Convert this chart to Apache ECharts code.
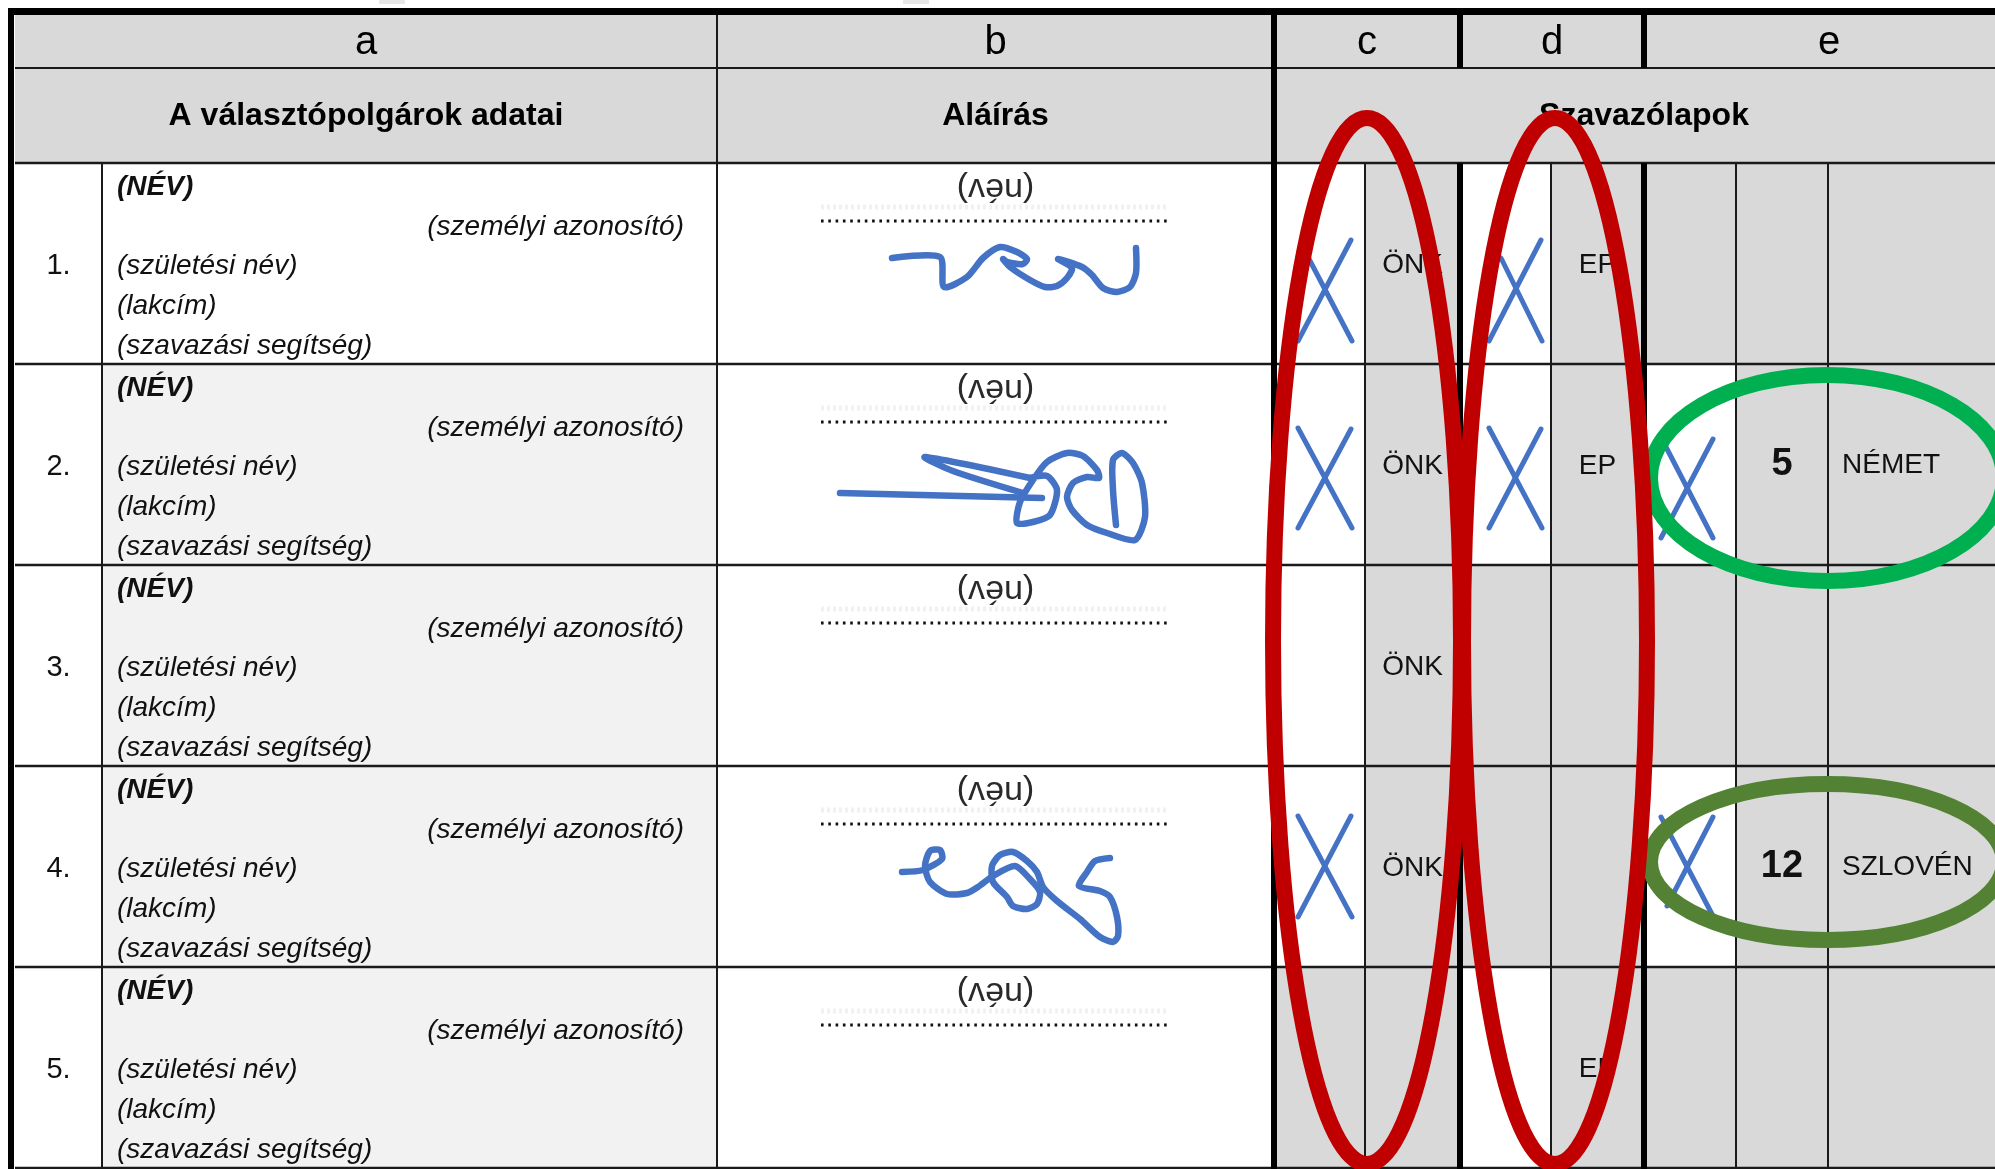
<!DOCTYPE html>
<html><head><meta charset="utf-8">
<script src="https://cdn.jsdelivr.net/npm/echarts@6/dist/echarts.min.js"></script>
<style>html,body{margin:0;padding:0;background:#fff;}#chart{width:1995px;height:1169px;}</style>
</head><body><div id="chart"></div>
<script>
// ================= DATA =================
const columnLetters = ['a', 'b', 'c', 'd', 'e'];
const sectionTitles = ['A választópolgárok adatai', 'Aláírás', 'Szavazólapok'];
const rowNumbers = ['1.', '2.', '3.', '4.', '5.'];
const voterFields = ['(NÉV)', '(személyi azonosító)', '(születési név)', '(lakcím)', '(szavazási segítség)'];
const signatureCaption = '(név)';
const onkBallot = ['ÖNK', 'ÖNK', 'ÖNK', 'ÖNK', ''];
const epBallot = ['EP', 'EP', '', '', 'EP'];
const nationalityNumber = ['', '5', '', '12', ''];
const nationalityName = ['', 'NÉMET', '', 'SZLOVÉN', ''];
const onkMarked = [true, true, false, true, false];
const epMarked = [true, true, false, false, false];
const nationalityMarked = [false, true, false, true, false];
const signed = [true, true, false, true, false];

// ================= HANDWRITING (shapes, relative to cell left / row top) =================
const xMarkStrokes = {
  onk: { 0: [[24, 178, 77, 77], [34, 94, 78, 178]], 1: [[24, 64, 78, 164], [77, 65, 24, 164]], 3: [[24, 50, 78, 151], [77, 50, 24, 151]] },
  ep:  { 0: [[81, 77, 29, 178], [41, 95, 82, 178]], 1: [[29, 64, 82, 164], [81, 65, 29, 164]] },
  nat: { 1: [[69, 75, 17, 174], [22, 83, 69, 174]], 3: [[69, 51, 23, 140], [17, 51, 69, 150]] }
};
// signature strokes: x on the page axis, y relative to row top
const signatureStrokes = {
  0: [[[892,95],[940,94],[944,124],[967,114],[983,95],[1000,84],[1017,89],[1027,96],[1023,101],[1007,99],[1003,96],[1010,104],[1030,117],[1045,124],[1057,123],[1067,115],[1072,105],[1058,96],[1082,104],[1092,112],[1103,125],[1117,129],[1130,124],[1136,110],[1136,85]]],
  1: [[[840,129],[1042,134]],
      [[1023,129],[953,107],[925,93],[1030,114]],
      [[1030,114],[1047,112],[1057,126],[1050,151],[1033,158],[1017,159],[1020,138],[1033,116],[1047,98],[1067,89],[1083,92],[1097,106],[1099,114],[1087,113],[1073,119],[1067,133],[1072,146],[1087,161],[1107,169],[1135,176],[1145,153],[1142,119],[1133,99],[1122,89],[1113,96],[1113,126],[1116,161]]],
  3: [[[902,106],[923,104],[942,93],[940,84],[930,85],[925,100],[930,116],[947,128],[967,127],[978,121],[993,110],[1015,100],[1030,113],[1040,126],[1037,138],[1027,143],[1013,140],[1007,131],[993,116],[992,100],[1000,89],[1013,86],[1027,95],[1037,106],[1043,121],[1057,135],[1080,153],[1100,171],[1113,176],[1118,170],[1117,151],[1110,131],[1100,125],[1079,120],[1087,106],[1095,95],[1110,92]]]
};

// ================= LAYOUT / STYLE =================
const L = {
  top: 15, head1: 68, head2: 163, rowH: 201,
  x: { num: 15, data: 102, b: 717, c: 1274, cIn: 1365, d: 1460, dIn: 1551, e: 1644, e1: 1736, e2: 1828, end: 2014 }
};
const C = { head: '#d9d9d9', shade: '#d9d9d9', light: '#f2f2f2', white: '#ffffff', text: '#111111',
  ink: '#4472c4', red: '#c00000', green1: '#00b050', green2: '#548235' };
const FF = '"Liberation Sans", Arial, sans-serif';
const rowTop = i => L.head2 + i * L.rowH;
const X = L.x;

// ================= BUILD ITEMS =================
const cells = [];
const addCell = (x0, y0, x1, y1, fill) => cells.push({ x0, y0, x1, y1, fill });
addCell(X.num, L.top, X.end, L.head2, C.head);
rowNumbers.forEach((_, i) => {
  const t = rowTop(i), b = t + L.rowH;
  addCell(X.num, t, X.data, b, C.white);
  addCell(X.data, t, X.b, b, i === 0 ? C.white : C.light);
  addCell(X.b, t, X.c, b, C.white);
  addCell(X.c, t, X.cIn, b, onkBallot[i] ? C.white : C.shade);
  addCell(X.cIn, t, X.d, b, C.shade);
  addCell(X.d, t, X.dIn, b, epBallot[i] ? C.white : C.shade);
  addCell(X.dIn, t, X.e, b, C.shade);
  addCell(X.e, t, X.e1, b, nationalityNumber[i] ? C.white : C.shade);
  addCell(X.e1, t, X.e2, b, C.shade);
  addCell(X.e2, t, X.end, b, C.shade);
});
addCell(379, 0, 405, 4, '#e6e6e6');
addCell(903, 0, 929, 4, '#e6e6e6');

const bottom = rowTop(rowNumbers.length);
const rules = [];
const addRule = (x1, y1, x2, y2, w, color) => rules.push({ x1, y1, x2, y2, w, color: color || '#1a1a1a' });
addRule(X.num, L.head1, X.end, L.head1, 2);
addRule(X.num, L.head2, X.end, L.head2, 2.5);
rowNumbers.forEach((_, i) => addRule(X.num, rowTop(i + 1), X.end, rowTop(i + 1), 2.5));
addRule(X.data, L.head2, X.data, bottom, 2);
addRule(X.b, L.top, X.b, bottom, 2);
[X.cIn, X.dIn, X.e1, X.e2].forEach(x => addRule(x, L.head2, x, bottom, 2));
addRule(8, 11.5, X.end, 11.5, 7, '#000');
addRule(11, 8, 11, bottom + 2, 6, '#000');
addRule(X.c, L.top, X.c, bottom + 2, 6, '#000');
[X.d, X.e].forEach(x => { addRule(x, L.top, x, L.head1, 6, '#000'); addRule(x, L.head2, x, bottom + 2, 6, '#000'); });

const texts = [];
const addText = (x, y, text, o) => texts.push(Object.assign({ x, y, text, size: 28, weight: 'normal', style: 'normal', align: 'center', rot: 0, fill: C.text }, o || {}));
const spans = [[X.num, X.b], [X.b, X.c], [X.c, X.d], [X.d, X.e], [X.e, X.end]];
columnLetters.forEach((t, i) => addText((spans[i][0] + spans[i][1]) / 2, 43, t, { size: 40, fill: '#000' }));
addText((X.num + X.b) / 2, 116, sectionTitles[0], { size: 32, weight: 'bold', fill: '#000' });
addText((X.b + X.c) / 2, 116, sectionTitles[1], { size: 32, weight: 'bold', fill: '#000' });
addText((X.c + X.end) / 2, 116, sectionTitles[2], { size: 32, weight: 'bold', fill: '#000' });
const fieldOffsets = [24, 64, 103, 143, 183];
rowNumbers.forEach((n, i) => {
  const t = rowTop(i), mid = t + L.rowH / 2;
  addText((X.num + X.data) / 2, mid + 2, n, { size: 29 });
  voterFields.forEach((f, k) => {
    if (k === 1) addText(684, t + fieldOffsets[k], f, { style: 'italic', align: 'right' });
    else addText(117, t + fieldOffsets[k], f, { style: 'italic', align: 'left', weight: k === 0 ? 'bold' : 'normal' });
  });
  addText((X.b + X.c) / 2, t + 25, signatureCaption, { size: 34, rot: Math.PI, fill: '#2a2a2a' });
  if (onkBallot[i]) addText((X.cIn + X.d) / 2, mid + 2, onkBallot[i]);
  if (epBallot[i]) addText((X.dIn + X.e) / 2, mid + 2, epBallot[i]);
  if (nationalityNumber[i]) addText((X.e1 + X.e2) / 2, mid, nationalityNumber[i], { size: 38, weight: 'bold' });
  if (nationalityName[i]) addText(1842, mid + 1, nationalityName[i], { align: 'left' });
});

const pen = [];
rowNumbers.forEach((_, i) => {
  const t = rowTop(i);
  pen.push({ kind: 'line', pts: [[821, t + 44], [1168, t + 44]], w: 5, color: '#f1f1f1', dash: [3, 3] });
  pen.push({ kind: 'line', pts: [[821, t + 58], [1168, t + 58]], w: 3.2, color: '#111', dash: [2.6, 4.7] });
  if (signed[i] && signatureStrokes[i]) signatureStrokes[i].forEach(s => pen.push({ kind: 'poly', pts: s.map(p => [p[0], t + p[1]]), w: 6.5, color: C.ink }));
  const addX = (marks, set, left) => {
    if (marks[i] && set[i]) set[i].forEach(l => pen.push({ kind: 'line', pts: [[left + l[0], t + l[1]], [left + l[2], t + l[3]]], w: 5, color: C.ink }));
  };
  addX(onkMarked, xMarkStrokes.onk, X.c);
  addX(epMarked, xMarkStrokes.ep, X.d);
  addX(nationalityMarked, xMarkStrokes.nat, X.e);
});

// highlight ellipses (annotation rings)
const rings = [
  { cx: 1827, cy: 478, rx: 177, ry: 103, color: C.green1 },
  { cx: 1827, cy: 862, rx: 177, ry: 78, color: C.green2 },
  { cx: 1367, cy: 641, rx: 94, ry: 523, color: C.red },
  { cx: 1555, cy: 641, rx: 92, ry: 523, color: C.red }
];

// ================= SERIES =================
function series(items, anchor, build, z) {
  return { type: 'custom', coordinateSystem: 'cartesian2d', silent: true, animation: false, z,
    data: items.map(anchor), renderItem: (p, api) => build(items[p.dataIndex], api) };
}
const cellSeries = series(cells, c => [c.x0, c.y0], (c, api) => {
  const a = api.coord([c.x0, c.y0]), b = api.coord([c.x1, c.y1]);
  return { type: 'rect', shape: { x: a[0], y: a[1], width: b[0] - a[0], height: b[1] - a[1] }, style: { fill: c.fill, stroke: 'none' } };
}, 1);
const ruleSeries = series(rules, r => [r.x1, r.y1], (r, api) => {
  const a = api.coord([r.x1, r.y1]), b = api.coord([r.x2, r.y2]);
  return { type: 'line', shape: { x1: a[0], y1: a[1], x2: b[0], y2: b[1] }, style: { stroke: r.color, lineWidth: r.w, fill: 'none' } };
}, 2);
const textSeries = series(texts, t => [t.x, t.y], (t, api) => {
  const a = api.coord([t.x, t.y]);
  return { type: 'text', x: a[0], y: a[1], rotation: t.rot, style: { text: t.text, fill: t.fill, fontSize: t.size, fontFamily: FF,
    fontWeight: t.weight, fontStyle: t.style, align: t.align, verticalAlign: 'middle' } };
}, 3);
const penSeries = series(pen, p => p.pts[0], (p, api) => {
  const pts = p.pts.map(q => api.coord(q));
  if (p.kind === 'line') return { type: 'line', shape: { x1: pts[0][0], y1: pts[0][1], x2: pts[1][0], y2: pts[1][1] },
    style: { stroke: p.color, lineWidth: p.w, lineDash: p.dash || null, fill: 'none', lineCap: p.dash ? 'butt' : 'round' } };
  return { type: 'polyline', shape: { points: pts, smooth: 0.25 }, style: { stroke: p.color, lineWidth: p.w, fill: 'none', lineJoin: 'round', lineCap: 'round' } };
}, 4);
const ringSeries = series(rings, r => [r.cx, r.cy], (r, api) => {
  const c = api.coord([r.cx, r.cy]), s = api.size([r.rx, r.ry]);
  return { type: 'ellipse', shape: { cx: c[0], cy: c[1], rx: Math.abs(s[0]), ry: Math.abs(s[1]) }, style: { stroke: r.color, lineWidth: 16, fill: 'none' } };
}, 5);

const chart = echarts.init(document.getElementById('chart'), null, { renderer: 'canvas' });
chart.setOption({
  backgroundColor: '#ffffff',
  animation: false,
  grid: { left: 0, right: 0, top: 0, bottom: 0 },
  xAxis: { type: 'value', min: 0, max: 1995, show: false },
  yAxis: { type: 'value', min: 0, max: 1169, inverse: true, show: false },
  series: [cellSeries, ruleSeries, textSeries, penSeries, ringSeries]
});
</script></body></html>
